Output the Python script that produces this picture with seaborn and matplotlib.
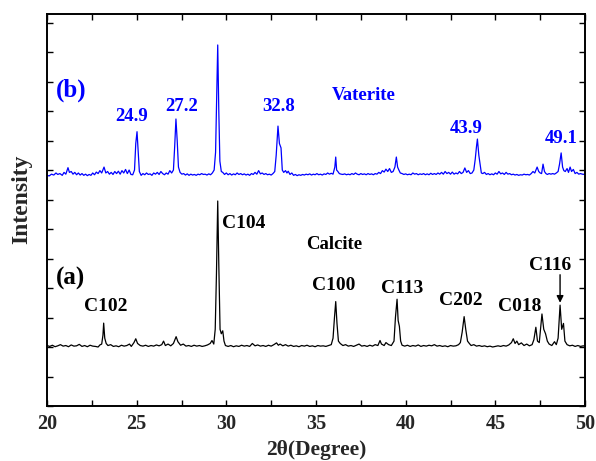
import numpy as np
import pandas as pd
import matplotlib
matplotlib.use("Agg")
import matplotlib.pyplot as plt
import seaborn as sns

# ---- (a) Calcite trace: 2theta and intensity (arbitrary units) ----
two_theta_a = [
    20.0, 20.15, 20.3, 20.45, 20.6, 20.75, 20.9, 21.05, 21.2, 21.35, 21.5, 21.65, 21.8, 21.95,
    22.1, 22.25, 22.4, 22.55, 22.7, 22.85, 22.95, 23.05, 23.12, 23.16, 23.22, 23.3, 23.4, 23.55,
    23.7, 23.85, 24.0, 24.15, 24.3, 24.45, 24.6, 24.7, 24.85, 24.95, 25.05, 25.2, 25.35, 25.5,
    25.65, 25.8, 25.95, 26.1, 26.25, 26.4, 26.5, 26.6, 26.75, 26.9, 27.05, 27.2, 27.3, 27.45,
    27.6, 27.75, 27.9, 28.05, 28.2, 28.35, 28.5, 28.65, 28.8, 28.95, 29.1, 29.2, 29.3, 29.38,
    29.45, 29.52, 29.58, 29.65, 29.72, 29.8, 29.87, 29.95, 30.1, 30.25, 30.4, 30.55, 30.7, 30.85,
    31.0, 31.15, 31.3, 31.45, 31.6, 31.75, 31.9, 32.05, 32.2, 32.35, 32.5, 32.65, 32.8, 32.9,
    33.0, 33.15, 33.3, 33.45, 33.6, 33.75, 33.9, 34.05, 34.2, 34.35, 34.5, 34.65, 34.8, 34.95,
    35.1, 35.25, 35.4, 35.55, 35.7, 35.85, 35.95, 36.03, 36.1, 36.17, 36.25, 36.35, 36.5, 36.65,
    36.8, 36.95, 37.1, 37.25, 37.4, 37.55, 37.7, 37.85, 38.0, 38.15, 38.3, 38.45, 38.57, 38.65,
    38.8, 38.9, 39.05, 39.2, 39.35, 39.43, 39.52, 39.58, 39.65, 39.72, 39.8, 39.95, 40.1, 40.25,
    40.4, 40.55, 40.7, 40.85, 41.0, 41.15, 41.3, 41.45, 41.6, 41.75, 41.9, 42.05, 42.2, 42.35,
    42.5, 42.65, 42.8, 42.95, 43.05, 43.15, 43.26, 43.35, 43.45, 43.55, 43.65, 43.8, 43.95, 44.1,
    44.25, 44.4, 44.55, 44.7, 44.85, 45.0, 45.15, 45.3, 45.45, 45.6, 45.75, 45.9, 46.0, 46.1,
    46.2, 46.3, 46.45, 46.6, 46.75, 46.9, 47.05, 47.15, 47.26, 47.35, 47.45, 47.6, 47.7, 47.8,
    47.9, 48.0, 48.15, 48.3, 48.4, 48.5, 48.61, 48.7, 48.8, 48.88, 49.0, 49.15, 49.3, 49.45,
    49.6, 49.75, 49.9, 50.0,
]
intensity_a = [
    2.05, 2.02, 2.06, 2.01, 2.04, 2.08, 2.03, 2.05, 2.01, 2.07, 2.03, 2.04, 2.09, 2.02,
    2.05, 2.01, 2.06, 2.03, 2.02, 2.00, 2.07, 2.10, 2.40, 2.81, 2.30, 2.12, 2.05, 2.08,
    2.02, 2.04, 2.01, 2.06, 2.03, 2.05, 2.10, 2.02, 2.15, 2.28, 2.12, 2.05, 2.03, 2.06,
    2.02, 2.05, 2.03, 2.07, 2.04, 2.08, 2.20, 2.05, 2.10, 2.04, 2.12, 2.35, 2.18, 2.06,
    2.10, 2.03, 2.05, 2.02, 2.06, 2.03, 2.05, 2.02, 2.04, 2.07, 2.12, 2.22, 2.10, 2.60,
    4.50, 6.95, 4.80, 2.60, 2.45, 2.55, 2.20, 2.05, 2.02, 2.05, 2.01, 2.04, 2.02, 2.06,
    2.03, 2.05, 2.02, 2.12, 2.04, 2.07, 2.03, 2.05, 2.02, 2.06, 2.03, 2.08, 2.14, 2.06,
    2.10, 2.04, 2.08, 2.03, 2.06, 2.02, 2.04, 2.01, 2.05, 2.03, 2.06, 2.02, 2.04, 2.01,
    2.05, 2.03, 2.04, 2.02, 2.05, 2.08, 2.30, 3.00, 3.54, 2.80, 2.20, 2.12, 2.05, 2.08,
    2.03, 2.05, 2.02, 2.06, 2.10, 2.03, 2.05, 2.02, 2.06, 2.03, 2.08, 2.05, 2.22, 2.10,
    2.05, 2.15, 2.08, 2.05, 2.20, 3.00, 3.62, 2.90, 2.70, 2.20, 2.06, 2.03, 2.06, 2.02,
    2.05, 2.03, 2.07, 2.02, 2.05, 2.03, 2.06, 2.04, 2.08, 2.03, 2.05, 2.02, 2.04, 2.01,
    2.05, 2.03, 2.04, 2.08, 2.15, 2.50, 3.03, 2.60, 2.20, 2.12, 2.05, 2.08, 2.03, 2.05,
    2.02, 2.04, 2.01, 2.03, 2.00, 2.02, 2.04, 2.02, 2.05, 2.03, 2.07, 2.15, 2.28, 2.12,
    2.20, 2.08, 2.14, 2.05, 2.10, 2.04, 2.08, 2.25, 2.67, 2.20, 2.15, 3.12, 2.60, 2.45,
    2.20, 2.10, 2.05, 2.18, 2.08, 2.30, 3.42, 2.60, 2.80, 2.20, 2.08, 2.04, 2.06, 2.02,
    2.05, 2.02, 2.04, 2.03,
]

# ---- (b) Vaterite trace ----
two_theta_b = [
    20.0, 20.12, 20.25, 20.38, 20.5, 20.6, 20.72, 20.85, 20.95, 21.05, 21.17, 21.25, 21.35, 21.45,
    21.55, 21.65, 21.75, 21.85, 21.95, 22.05, 22.15, 22.25, 22.35, 22.45, 22.55, 22.65, 22.75, 22.85,
    22.95, 23.05, 23.18, 23.28, 23.38, 23.48, 23.58, 23.68, 23.78, 23.88, 23.98, 24.08, 24.18, 24.28,
    24.38, 24.48, 24.58, 24.68, 24.78, 24.88, 24.95, 25.02, 25.08, 25.15, 25.25, 25.35, 25.45, 25.55,
    25.65, 25.75, 25.85, 25.95, 26.05, 26.15, 26.25, 26.35, 26.45, 26.55, 26.65, 26.75, 26.85, 26.95,
    27.05, 27.12, 27.19, 27.26, 27.33, 27.42, 27.52, 27.62, 27.72, 27.82, 27.92, 28.02, 28.12, 28.22,
    28.32, 28.42, 28.52, 28.62, 28.72, 28.82, 28.92, 29.02, 29.12, 29.22, 29.32, 29.4, 29.46, 29.52,
    29.58, 29.64, 29.72, 29.8, 29.9, 30.0, 30.1, 30.2, 30.3, 30.4, 30.5, 30.6, 30.7, 30.8,
    30.9, 31.0, 31.1, 31.2, 31.3, 31.4, 31.5, 31.6, 31.7, 31.8, 31.9, 32.0, 32.1, 32.2,
    32.3, 32.4, 32.5, 32.6, 32.7, 32.78, 32.88, 32.96, 33.05, 33.12, 33.2, 33.3, 33.38, 33.45,
    33.55, 33.65, 33.75, 33.85, 33.95, 34.05, 34.15, 34.25, 34.35, 34.45, 34.55, 34.65, 34.75, 34.85,
    34.95, 35.05, 35.15, 35.25, 35.35, 35.45, 35.55, 35.65, 35.75, 35.85, 35.95, 36.05, 36.1, 36.15,
    36.22, 36.3, 36.4, 36.5, 36.6, 36.7, 36.8, 36.9, 37.0, 37.1, 37.2, 37.3, 37.4, 37.5,
    37.6, 37.7, 37.8, 37.9, 38.0, 38.1, 38.2, 38.3, 38.4, 38.5, 38.6, 38.7, 38.8, 38.9,
    39.0, 39.1, 39.2, 39.3, 39.4, 39.48, 39.55, 39.62, 39.7, 39.8, 39.9, 40.0, 40.1, 40.2,
    40.3, 40.4, 40.5, 40.6, 40.7, 40.8, 40.9, 41.0, 41.1, 41.2, 41.3, 41.4, 41.5, 41.6,
    41.7, 41.8, 41.9, 42.0, 42.1, 42.2, 42.3, 42.4, 42.5, 42.6, 42.7, 42.8, 42.9, 43.0,
    43.1, 43.2, 43.3, 43.4, 43.5, 43.6, 43.7, 43.8, 43.88, 43.95, 44.0, 44.08, 44.15, 44.22,
    44.3, 44.4, 44.5, 44.6, 44.7, 44.8, 44.9, 45.0, 45.1, 45.2, 45.3, 45.4, 45.5, 45.6,
    45.7, 45.8, 45.9, 46.0, 46.1, 46.2, 46.3, 46.4, 46.5, 46.6, 46.7, 46.8, 46.9, 47.0,
    47.1, 47.2, 47.33, 47.42, 47.5, 47.58, 47.66, 47.74, 47.82, 47.9, 48.0, 48.1, 48.2, 48.3,
    48.4, 48.5, 48.58, 48.67, 48.75, 48.82, 48.9, 49.0, 49.08, 49.17, 49.25, 49.35, 49.45, 49.55,
    49.65, 49.75, 49.85, 50.0,
]
intensity_b = [
    7.82, 7.80, 7.86, 7.83, 7.90, 7.85, 7.88, 7.82, 7.92, 7.86, 8.08, 7.92, 7.95, 7.86,
    7.92, 7.84, 7.90, 7.83, 7.88, 7.82, 7.86, 7.81, 7.85, 7.82, 7.90, 7.84, 7.93, 7.88,
    7.98, 7.90, 8.10, 7.90, 7.95, 7.86, 7.92, 7.85, 7.95, 7.88, 7.96, 7.86, 7.98, 7.90,
    8.02, 7.88, 8.00, 7.85, 7.84, 8.00, 8.90, 9.30, 8.70, 7.95, 7.82, 7.88, 7.84, 7.90,
    7.85, 7.87, 7.82, 7.90, 7.86, 7.92, 7.85, 7.95, 7.88, 7.84, 7.90, 7.86, 7.98, 7.90,
    8.00, 8.80, 9.73, 9.00, 8.10, 7.92, 7.86, 7.88, 7.83, 7.87, 7.82, 7.86, 7.83, 7.85,
    7.82, 7.86, 7.84, 7.88, 7.85, 7.86, 7.83, 7.87, 7.84, 7.90, 8.00, 8.60, 10.50, 12.24,
    10.00, 8.30, 7.95, 7.92, 7.85, 7.90, 7.84, 7.88, 7.83, 7.87, 7.84, 7.90, 7.85, 7.88,
    7.84, 7.87, 7.83, 7.86, 7.82, 7.88, 7.85, 7.92, 7.86, 7.98, 7.87, 7.90, 7.85, 7.88,
    7.84, 7.86, 7.83, 7.88, 7.95, 8.50, 9.49, 8.90, 8.75, 8.00, 7.92, 7.98, 7.90, 7.96,
    7.85, 7.90, 7.82, 7.85, 7.81, 7.84, 7.82, 7.85, 7.83, 7.86, 7.84, 7.87, 7.83, 7.86,
    7.84, 7.88, 7.84, 7.86, 7.83, 7.87, 7.85, 7.90, 7.86, 7.89, 7.86, 8.10, 8.44, 8.00,
    7.95, 7.88, 7.86, 7.85, 7.87, 7.84, 7.86, 7.84, 7.88, 7.85, 7.90, 7.86, 7.84, 7.88,
    7.85, 7.87, 7.84, 7.88, 7.85, 7.87, 7.84, 7.88, 7.86, 7.92, 7.88, 7.98, 7.93, 8.03,
    7.95, 8.05, 7.92, 7.95, 8.10, 8.44, 8.10, 8.00, 7.90, 7.88, 7.85, 7.87, 7.84, 7.86,
    7.84, 7.90, 7.86, 7.88, 7.84, 7.87, 7.85, 7.88, 7.84, 7.87, 7.84, 7.89, 7.85, 7.88,
    7.85, 7.90, 7.86, 7.92, 7.86, 7.95, 7.88, 7.92, 7.86, 7.93, 7.86, 7.90, 7.87, 7.95,
    7.88, 7.92, 8.07, 7.92, 7.98, 7.88, 7.90, 8.00, 8.37, 8.80, 9.05, 8.50, 8.20, 7.90,
    7.88, 7.92, 7.85, 7.88, 7.84, 7.87, 7.84, 7.90, 7.86, 7.95, 7.87, 7.90, 7.85, 7.92,
    7.86, 7.88, 7.84, 7.86, 7.83, 7.85, 7.82, 7.84, 7.83, 7.86, 7.84, 7.85, 7.83, 7.88,
    7.95, 7.90, 8.10, 7.95, 7.90, 7.88, 8.20, 7.95, 7.88, 7.85, 7.88, 7.86, 7.88, 7.86,
    7.90, 7.95, 8.20, 8.58, 8.10, 7.98, 7.95, 8.05, 7.92, 8.10, 7.95, 8.02, 7.88, 7.92,
    7.86, 7.88, 7.86, 7.85,
]

# ---- annotation texts ----
vaterite_labels = ["24.9", "27.2", "32.8", "43.9", "49.1"]
vaterite_label_x = [24.74, 27.53, 32.94, 43.37, 48.67]
vaterite_label_y = [9.80, 10.14, 10.14, 9.42, 9.08]

calcite_labels = ["C102", "C100", "C113", "C202", "C018", "C116"]
calcite_label_x = [23.26, 35.96, 39.78, 43.09, 46.38, 48.04]
calcite_label_y = [3.36, 4.10, 3.97, 3.59, 3.36, 4.78]

x_ticks = [20, 25, 30, 35, 40, 45, 50]
x_tick_labels = ["20", "25", "30", "35", "40", "45", "50"]

# ---- style ----
sns.set_theme(style="ticks")
plt.rcParams["font.family"] = ["Liberation Serif", "DejaVu Serif"]
plt.rcParams["font.weight"] = "bold"
plt.rcParams["axes.labelweight"] = "bold"

BLUE = "#0000ff"
fig = plt.figure(figsize=(5.96, 4.61), dpi=100)
ax = fig.add_axes([47 / 596, 55 / 461, 538 / 596, 392 / 461])

df_a = pd.DataFrame({"two_theta": two_theta_a, "intensity": intensity_a})
df_b = pd.DataFrame({"two_theta": two_theta_b, "intensity": intensity_b})
sns.lineplot(data=df_a, x="two_theta", y="intensity", ax=ax, color="black",
             linewidth=0.9, estimator=None, sort=False)
sns.lineplot(data=df_b, x="two_theta", y="intensity", ax=ax, color=BLUE,
             linewidth=0.9, estimator=None, sort=False)

ax.set_xlim(20, 50)
ax.set_ylim(0, 13.29)
ax.set_xticks(x_ticks)
ax.set_xticklabels(x_tick_labels, fontsize=14.5, fontweight="bold")
ax.set_xticks(np.arange(22.5, 50, 5), minor=True)
ax.set_yticks(np.arange(0, 14, 1))
ax.set_yticklabels([])
ax.tick_params(axis="both", which="both", direction="in", top=True, right=True,
               length=4, width=1.0, color="black", pad=6)
for s in ax.spines.values():
    s.set_linewidth(1.4)
    s.set_color("black")

ax.set_xlabel("")
ax.set_ylabel("")
fig.text(316 / 596, 1 - 450 / 461, "2θ(Degree)", fontsize=15.5, fontweight="bold",
         ha="center", va="center")
fig.text(22 / 596, 1 - 199 / 461, "Intensity", fontsize=17, fontweight="bold",
         ha="center", va="center", rotation=90)

# labels for traces
ax.text(20.5, 10.71, "(b)", color=BLUE, fontsize=18, fontweight="bold",
        ha="left", va="center")
ax.text(20.5, 4.34, "(a)", color="black", fontsize=18, fontweight="bold",
        ha="left", va="center")
ax.text(37.68, 10.54, "Vaterite", color=BLUE, fontsize=13.5, fontweight="bold",
        ha="center", va="center")
ax.text(36.0, 5.46, "Calcite", color="black", fontsize=13.5, fontweight="bold",
        ha="center", va="center")
ax.text(29.76, 6.2, "C104", color="black", fontsize=14, fontweight="bold",
        ha="left", va="center")

for lab, xx, yy in zip(vaterite_labels, vaterite_label_x, vaterite_label_y):
    ax.text(xx, yy, lab, color=BLUE, fontsize=13.5, fontweight="bold",
            ha="center", va="center")
for lab, xx, yy in zip(calcite_labels, calcite_label_x, calcite_label_y):
    ax.text(xx, yy, lab, color="black", fontsize=14, fontweight="bold",
            ha="center", va="center")

ax.annotate("", xy=(48.61, 3.50), xytext=(48.61, 4.45),
            arrowprops=dict(arrowstyle="-|>", color="black", lw=1.0,
                            mutation_scale=10, shrinkA=0, shrinkB=0))

fig.savefig("out.png", dpi=100)
